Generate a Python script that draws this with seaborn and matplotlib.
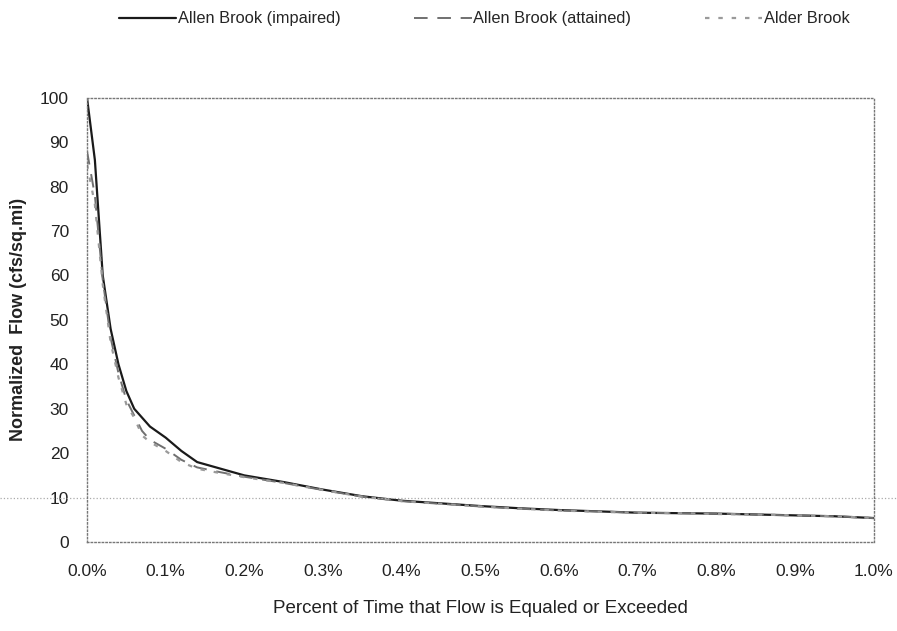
import matplotlib
matplotlib.use("Agg")
import matplotlib.pyplot as plt
import matplotlib.ticker as mticker
import pandas as pd
import seaborn as sns

# percent of time flow is equaled or exceeded (%)
pct = [0.0, 0.01, 0.02, 0.03, 0.04, 0.05, 0.06, 0.07, 0.08, 0.10, 0.12, 0.14,
       0.17, 0.20, 0.25, 0.30, 0.35, 0.40, 0.45, 0.50, 0.55, 0.60, 0.65, 0.70,
       0.75, 0.80, 0.85, 0.90, 0.95, 1.00]

impaired = [100, 86, 60, 48, 40, 34, 30, 28, 26, 23.5, 20.5, 18,
            16.5, 15, 13.5, 11.8, 10.3, 9.3, 8.7, 8.1, 7.6, 7.2, 6.9, 6.6,
            6.5, 6.4, 6.2, 6.0, 5.8, 5.4]
attained = [88, 78, 59, 46, 38, 32, 28.5, 25, 23, 21, 18.5, 16.8,
            15.7, 14.7, 13.3, 11.7, 10.2, 9.2, 8.6, 8.0, 7.5, 7.1, 6.9, 6.6,
            6.5, 6.4, 6.2, 6.0, 5.8, 5.4]
alder = [85, 76, 58, 45, 37, 31, 28, 24, 22.5, 20.5, 18, 16.5,
         15.5, 14.6, 13.3, 11.7, 10.2, 9.2, 8.6, 8.0, 7.5, 7.1, 6.8, 6.6,
         6.5, 6.3, 6.2, 6.0, 5.8, 5.4]

names = ["Allen Brook (impaired)", "Allen Brook (attained)", "Alder Brook"]
colors = ["#1a1a1a", "#707070", "#9a9a9a"]
dashes = ["-", (0, (7, 5)), (0, (2, 4))]
widths = [1.6, 1.4, 1.6]

sns.set_style("white")
plt.rcParams["font.family"] = ["Liberation Sans", "DejaVu Sans"]

fig = plt.figure(figsize=(8.97, 6.31), dpi=100)
ax = fig.add_axes([0.097, 0.141, 0.877, 0.704])

for name, vals, c, ls, lw in zip(names, [impaired, attained, alder], colors, dashes, widths):
    df = pd.DataFrame({"pct": pct, "flow": vals})
    sns.lineplot(data=df, x="pct", y="flow", ax=ax, color=c, linestyle=ls,
                 linewidth=lw, label=name)

ax.set_xlim(0, 1.0)
ax.set_ylim(0, 100)
ax.set_xticks([i / 10 for i in range(11)])
ax.set_yticks(range(0, 101, 10))
ax.xaxis.set_major_formatter(mticker.FuncFormatter(lambda v, p: f"{v:.1f}%"))
ax.tick_params(axis="both", length=0, labelsize=12.5, colors="#222222")
ax.tick_params(axis="x", pad=16)
ax.tick_params(axis="y", pad=13)

for s in ax.spines.values():
    s.set_linestyle(":")
    s.set_color("#777777")
    s.set_linewidth(1.0)

ax.axhline(10, xmin=-0.111, xmax=1.03, clip_on=False, linestyle=":",
           color="#aaaaaa", linewidth=0.9)

ax.set_xlabel("Percent of Time that Flow is Equaled or Exceeded", fontsize=13.5,
              color="#222222", labelpad=15)
ax.set_ylabel("Normalized  Flow (cfs/sq.mi)", fontsize=13, fontweight="bold",
              color="#222222", labelpad=9)

handles, labels = ax.get_legend_handles_labels()
ax.get_legend().remove()
fig.legend(handles, labels, loc="upper left", bbox_to_anchor=(0.12, 1.0),
           ncol=3, frameon=False, fontsize=11.8, columnspacing=4.5,
           handlelength=3.5, handletextpad=0.1, borderaxespad=0.3)

fig.savefig("out.png", dpi=100)
